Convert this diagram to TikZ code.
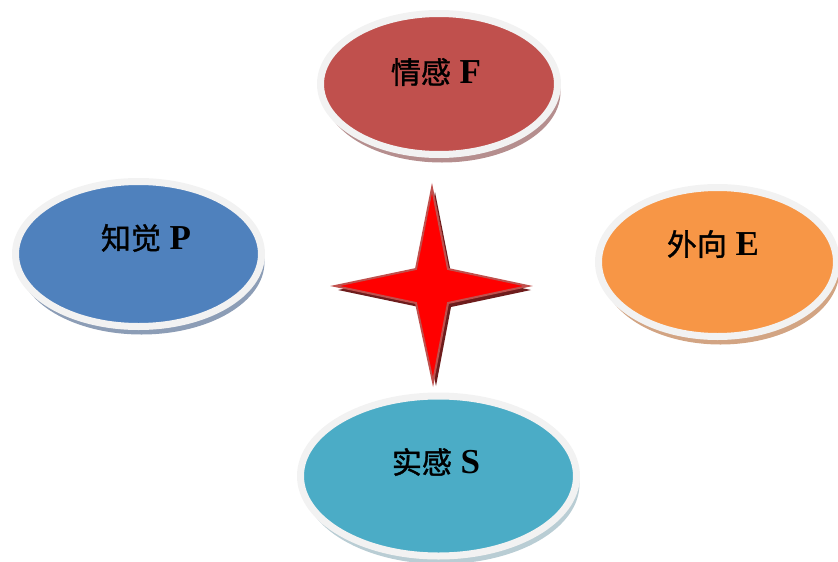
\documentclass[tikz,border=0pt]{standalone}
\usepackage{fontspec}
\setmainfont{Liberation Serif}
\newfontfamily\cjk[FakeBold=1.2]{Noto Sans CJK SC}
\usepackage{tikz}
\usetikzlibrary{shapes.geometric,shadows}

\definecolor{redF}{HTML}{C0504D}
\definecolor{blueP}{HTML}{4F81BD}
\definecolor{cyanS}{HTML}{4BACC6}
\definecolor{orangeE}{HTML}{F79646}
\definecolor{ringgray}{HTML}{F2F2F2}
\definecolor{shadF}{HTML}{B58E8E}
\definecolor{shadP}{HTML}{8C9DB6}
\definecolor{shadS}{HTML}{B9CDD4}
\definecolor{shadE}{HTML}{D2A483}
\definecolor{starred}{HTML}{FF0000}
\definecolor{staredge}{HTML}{C0504D}
\definecolor{starshad}{HTML}{6E1C1C}

\newcommand{\zh}[1]{{\fontsize{30}{32}\selectfont\cjk\mdseries #1}}

\tikzset{
  oval/.style={ellipse, draw=ringgray, line width=7pt, inner sep=0pt},
  ovalshadow/.style={drop shadow={shadow xshift=3pt, shadow yshift=-8pt, fill=#1, opacity=1}},
  lbl/.style={font=\fontsize{35}{36}\selectfont\bfseries, text=black, inner sep=0pt}
}

\begin{document}
\begin{tikzpicture}[x=1pt,y=-1pt]
  \useasboundingbox (0,0) rectangle (838,562);

  % four ellipses
  \node[oval, fill=redF, minimum width=237pt, minimum height=141pt, ovalshadow=shadF] (F) at (439,84) {};
  \node[oval, fill=blueP, minimum width=246pt, minimum height=145pt, ovalshadow=shadP] (P) at (138.5,254) {};
  \node[oval, fill=orangeE, minimum width=238pt, minimum height=149pt, ovalshadow=shadE] (E) at (717.5,262) {};
  \node[oval, fill=cyanS, minimum width=276pt, minimum height=160pt, ovalshadow=shadS] (S) at (438.5,476) {};

  % labels
  \node[lbl] (tF) at ([xshift=-3pt,yshift=12pt]F.center) {\zh{情感} F};
  \node[lbl] (tP) at ([xshift=7.5pt,yshift=16pt]P.center) {\zh{知觉} P};
  \node[lbl] (tE) at ([xshift=-4.5pt,yshift=18pt]E.center) {\zh{外向} E};
  \node[lbl] (tS) at ([xshift=-2.5pt,yshift=14pt]S.center) {\zh{实感} S};

  % star
  \draw[fill=starred, draw=staredge, line width=2pt, line join=miter,
    drop shadow={shadow xshift=3pt, shadow yshift=-4pt, fill=starshad, opacity=1}]
    (432,188) -- (448,269) -- (528,286) -- (448,303) -- (433,382)
    -- (416,303) -- (335,286) -- (416,269) -- cycle;
\end{tikzpicture}
\end{document}
